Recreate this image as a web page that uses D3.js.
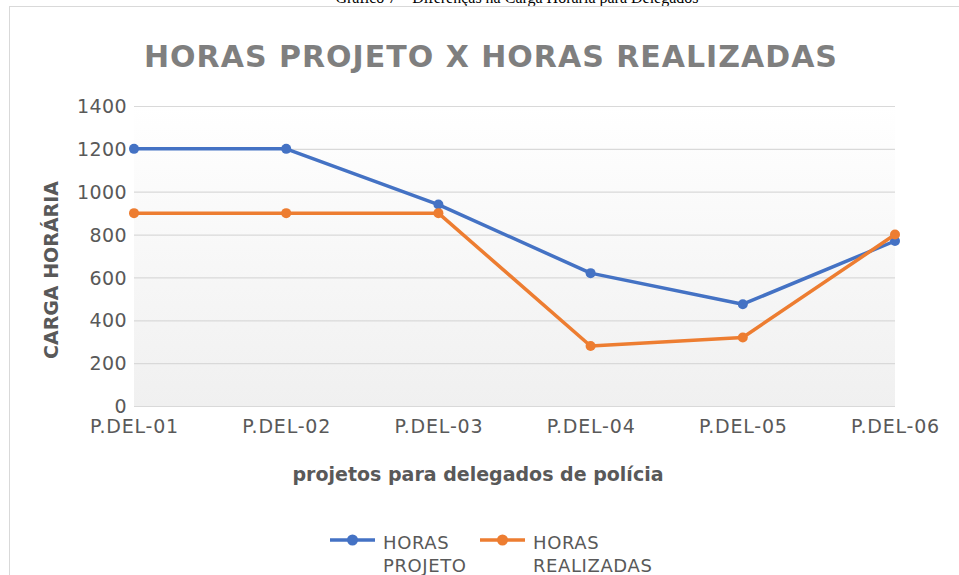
<!DOCTYPE html>
<html><head><meta charset="utf-8">
<script src="https://cdn.jsdelivr.net/npm/d3@7"></script>
<style>body{margin:0;background:#fff}svg{display:block}</style>
</head><body>
<svg id="c" width="959" height="575"></svg>
<script>
const categories = ["P.DEL-01","P.DEL-02","P.DEL-03","P.DEL-04","P.DEL-05","P.DEL-06"];
const horasProjeto = [1200, 1200, 940, 620, 475, 770];
const horasRealizadas = [900, 900, 900, 280, 320, 800];
const yTicks = [0,200,400,600,800,1000,1200,1400];
const seriesNames = [["HORAS","PROJETO"],["HORAS","REALIZADAS"]];
const colors = ["#4472c4","#ed7d31"];

const svg = d3.select("#c");
const W=959,H=575;
const pL=134,pR=895,pT=106,pB=406;

// caption (cut off)
svg.append("text").attr("x",517).attr("y",3).attr("text-anchor","middle")
  .attr("font-family","Liberation Serif, serif").attr("font-size",16).attr("fill","#000")
  .text("Gráfico 7 – Diferenças na Carga Horária para Delegados");

// chart frame
svg.append("rect").attr("x",9.5).attr("y",6.5).attr("width",W).attr("height",H)
  .attr("fill","#fff").attr("stroke","#d9d9d9").attr("stroke-width",1);

const defs=svg.append("defs");
const g=defs.append("linearGradient").attr("id","bg").attr("x1",0).attr("y1",0).attr("x2",0).attr("y2",1);
g.append("stop").attr("offset","0%").attr("stop-color","#ffffff");
g.append("stop").attr("offset","100%").attr("stop-color","#f0f0f0");

const x=d3.scalePoint().domain(categories).range([pL,pR]);
const y=d3.scaleLinear().domain([0,1400]).range([pB,pT]);

svg.append("rect").attr("x",pL).attr("y",pT).attr("width",pR-pL).attr("height",pB-pT).attr("fill","url(#bg)");

// title
svg.append("text").attr("x",491).attr("y",67).attr("text-anchor","middle")
  .attr("font-family","DejaVu Sans").attr("font-weight","bold").attr("font-size",30)
  .attr("letter-spacing",1).attr("fill","#7f7f7f").text("HORAS PROJETO X HORAS REALIZADAS");

// gridlines
svg.append("g").selectAll("line").data(yTicks).join("line")
  .attr("x1",pL).attr("x2",pR).attr("y1",d=>y(d)+0.5).attr("y2",d=>y(d)+0.5)
  .attr("stroke","#d9d9d9").attr("stroke-width",1.2);

// y axis
const ya=svg.append("g").attr("transform",`translate(${pL-7},0)`)
  .call(d3.axisLeft(y).tickValues(yTicks).tickFormat(d3.format("d")).tickSize(0).tickPadding(0));
ya.select(".domain").remove();
ya.selectAll("text").attr("font-family","DejaVu Sans").attr("font-size",19).attr("letter-spacing",0.4)
  .attr("fill","#595959").attr("dy","0.35em");

// x axis
const xa=svg.append("g").attr("transform",`translate(0,${pB+20})`)
  .call(d3.axisBottom(x).tickSize(0).tickPadding(0));
xa.select(".domain").remove();
xa.selectAll("text").attr("font-family","DejaVu Sans").attr("font-size",19).attr("letter-spacing",0.8)
  .attr("fill","#595959").attr("dy","0.35em");

// axis titles
svg.append("text").attr("transform","translate(58,270) rotate(-90)").attr("text-anchor","middle")
  .attr("font-family","DejaVu Sans").attr("font-weight","bold").attr("font-size",19).attr("fill","#595959")
  .text("CARGA HORÁRIA");
svg.append("text").attr("x",478).attr("y",481).attr("text-anchor","middle")
  .attr("font-family","DejaVu Sans").attr("font-weight","bold").attr("font-size",19).attr("fill","#595959")
  .text("projetos para delegados de polícia");

// lines
const line=d3.line().x((d,i)=>x(categories[i])).y(d=>y(d));
[horasProjeto,horasRealizadas].forEach((s,k)=>{
  svg.append("path").datum(s).attr("d",line).attr("fill","none").attr("stroke",colors[k])
    .attr("stroke-width",3.5).attr("stroke-linejoin","round");
  svg.append("g").selectAll("circle").data(s).join("circle")
    .attr("cx",(d,i)=>x(categories[i])).attr("cy",d=>y(d)).attr("r",5).attr("fill",colors[k]);
});

// legend
const legX=[330,480];
seriesNames.forEach((nm,k)=>{
  const lg=svg.append("g");
  lg.append("line").attr("x1",legX[k]).attr("x2",legX[k]+45).attr("y1",540).attr("y2",540)
    .attr("stroke",colors[k]).attr("stroke-width",3.5);
  lg.append("circle").attr("cx",legX[k]+22.5).attr("cy",540).attr("r",5.5).attr("fill",colors[k]);
  nm.forEach((t,j)=>lg.append("text").attr("x",legX[k]+53).attr("y",549+j*23)
    .attr("font-family","DejaVu Sans").attr("font-size",18).attr("letter-spacing",0.6)
    .attr("fill","#595959").text(t));
});
</script>
</body></html>
